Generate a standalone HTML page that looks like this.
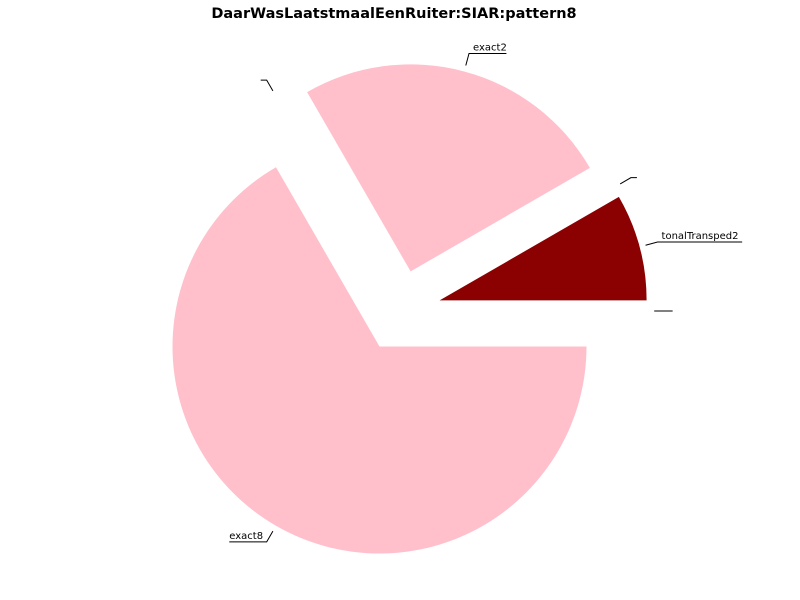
<!DOCTYPE html>
<html><head><meta charset="utf-8"><style>
body{margin:0;background:#fff}
svg{display:block;font-family:"DejaVu Sans","Liberation Sans",sans-serif}
</style></head><body>
<svg id="chart" width="800" height="600">
<rect width="800" height="600" fill="#fff"/>
<text x="394" y="18" text-anchor="middle" font-size="14.5" font-weight="bold">DaarWasLaatstmaalEenRuiter:SIAR:pattern8</text>
<g id="slices"></g><g id="labels"></g>
</svg>
<script>
const categories = ["tonalTransped2", "", "exact2", "", "exact8", ""];
const values = [1, 0, 3, 0, 8, 0];
const colors = ["#8b0000", "#ffc0cb", "#ffc0cb", "#ffc0cb", "#ffc0cb", "#ffc0cb"];
const cx = 400, cy = 311, R = 207, ex = 41;
const NS = "http://www.w3.org/2000/svg";
const gS = document.getElementById("slices"), gL = document.getElementById("labels");
const total = values.reduce((a, b) => a + b, 0);
let a0 = 0;
function pt(bx, by, r, a) { return [bx + r * Math.cos(a), by - r * Math.sin(a)]; }
values.forEach((v, i) => {
  const span = v / total * 2 * Math.PI, a1 = a0 + span, mid = a0 + span / 2;
  const bx = cx + ex * Math.cos(mid), by = cy - ex * Math.sin(mid);
  if (v > 0) {
    const p0 = pt(bx, by, R, a0), p1 = pt(bx, by, R, a1);
    const large = span > Math.PI ? 1 : 0;
    const path = document.createElementNS(NS, "path");
    path.setAttribute("d", `M${bx},${by} L${p0[0]},${p0[1]} A${R},${R} 0 ${large} 0 ${p1[0]},${p1[1]} Z`);
    path.setAttribute("fill", colors[i]);
    
    
    gS.appendChild(path);
  }
  const s = pt(bx, by, R * 1.03, mid), e = pt(bx, by, R * 1.09, mid);
  const right = Math.cos(mid) >= -1e-6;
  const tw = categories[i] ? categories[i].length * 5.9 + 2 : 6;
  const hx = right ? e[0] + tw : e[0] - tw;
  const pl = document.createElementNS(NS, "polyline");
  pl.setAttribute("points", `${s[0]},${s[1]} ${e[0]},${e[1]} ${hx},${e[1]}`);
  pl.setAttribute("fill", "none"); pl.setAttribute("stroke", "#000"); pl.setAttribute("stroke-width", "1");
  
  
  gL.appendChild(pl);
  if (categories[i]) {
    const t = document.createElementNS(NS, "text");
    t.setAttribute("x", right ? e[0] + 4 : hx);
    t.setAttribute("y", e[1] - 3);
    t.setAttribute("font-size", "10");
    t.textContent = categories[i];
    
    
    gL.appendChild(t);
  }
  a0 = a1;
});
</script>
</body></html>
